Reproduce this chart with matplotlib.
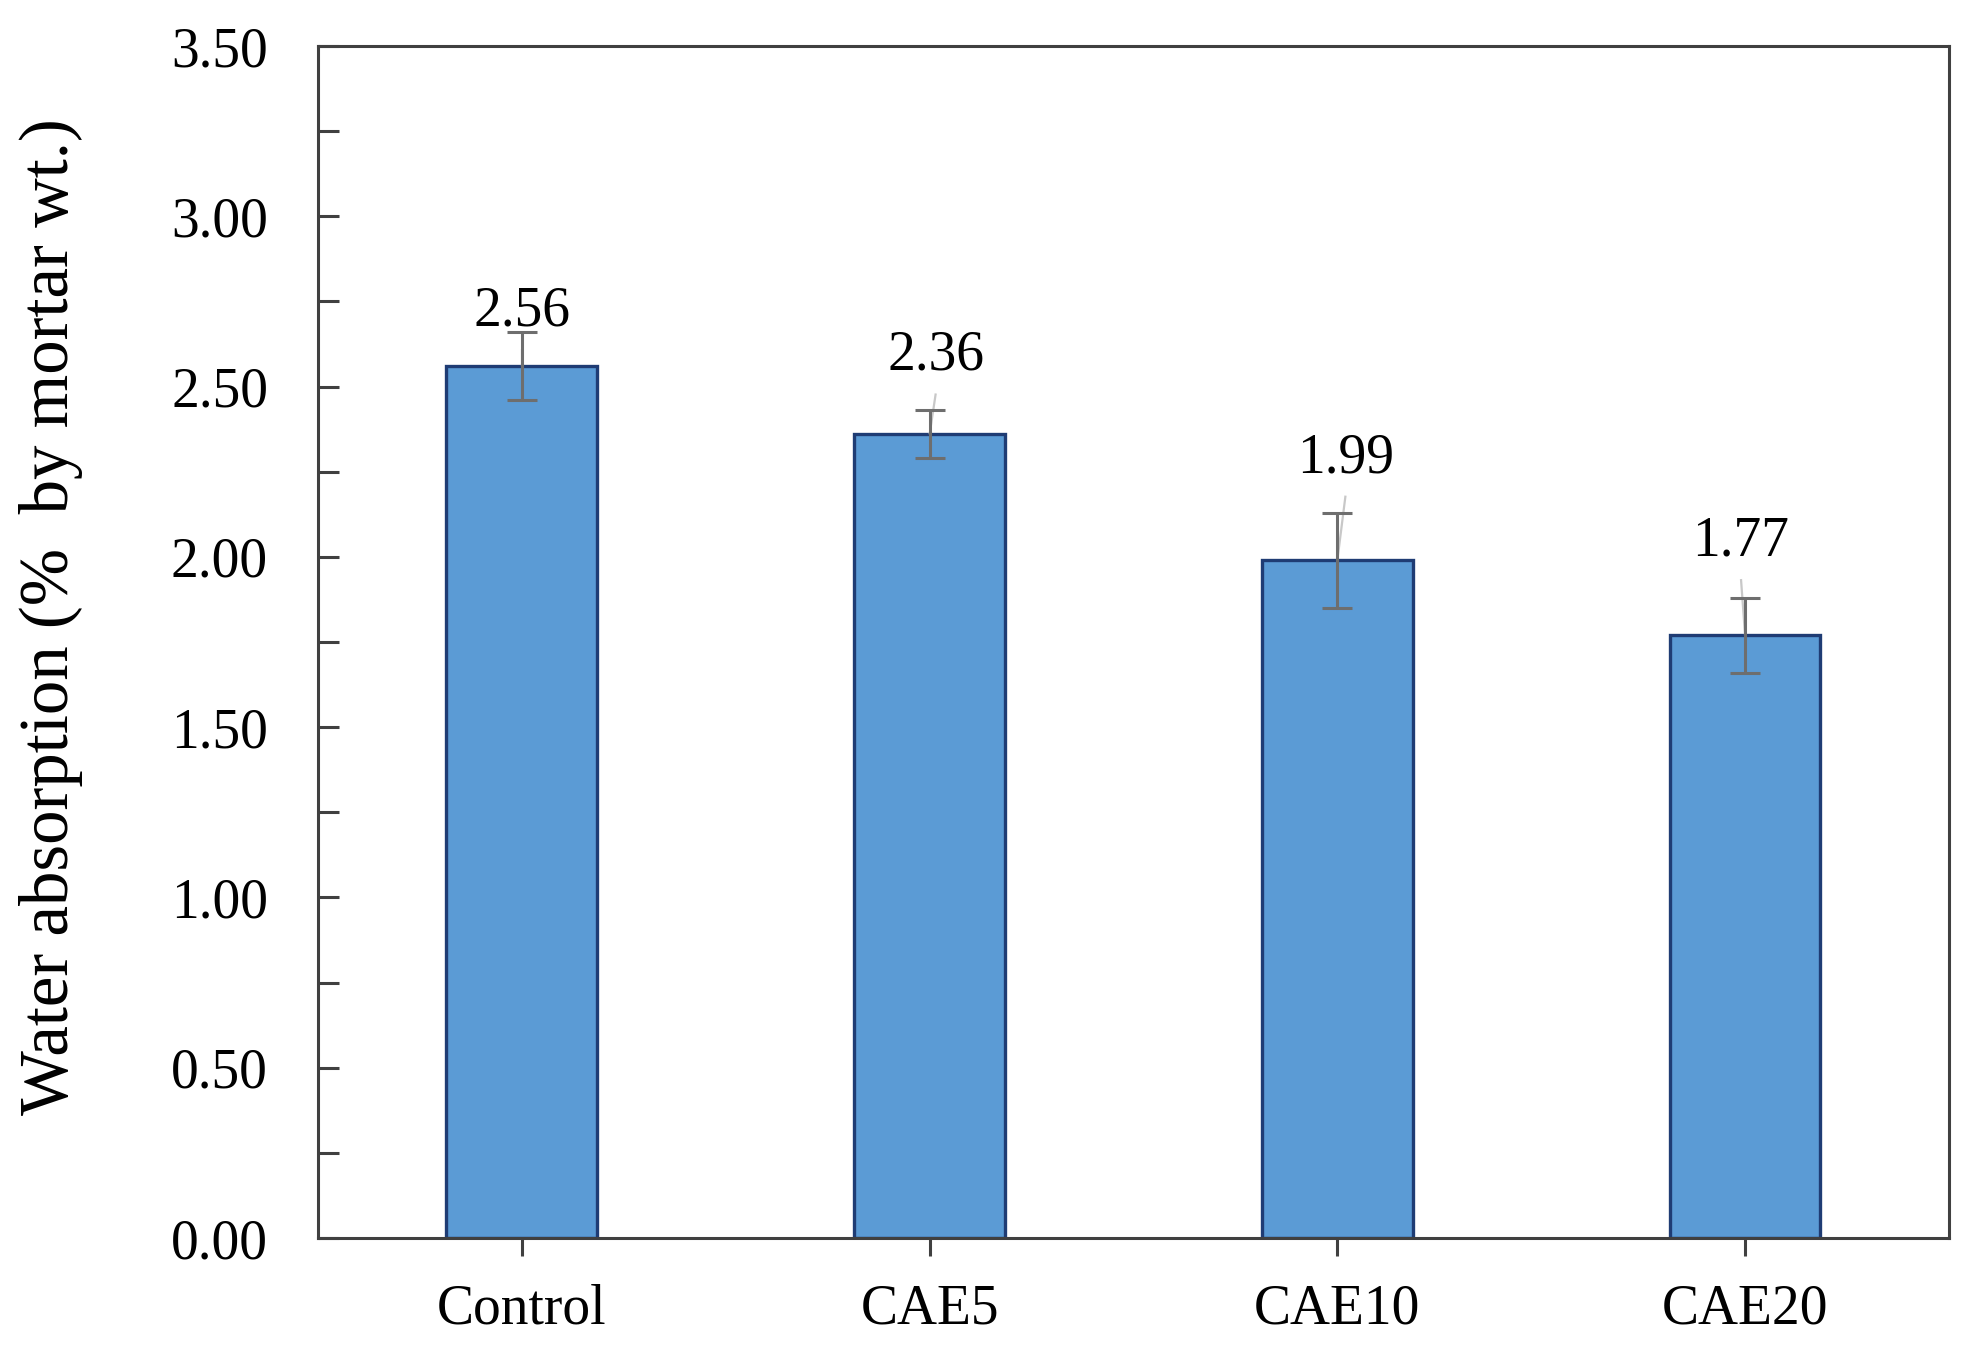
"""
Water absorption bar chart
"""

import matplotlib

matplotlib.use("Agg")

import matplotlib.pyplot as plt
import numpy as np
from matplotlib.ticker import MultipleLocator

# =============================================================================
# DATA
# =============================================================================

categories = ["Control", "CAE5", "CAE10", "CAE20"]
absorption = [2.56, 2.36, 1.99, 1.77]
errors = [0.10, 0.07, 0.14, 0.11]
labels = ["2.56", "2.36", "1.99", "1.77"]

# label placement (offset above the upper cap, sideways shift)
label_rise = [0.06, 0.16, 0.16, 0.165]
label_shift = [0.0, 0.015, 0.02, -0.01]

# =============================================================================
# STYLE
# =============================================================================

plt.rcParams["font.family"] = ["Liberation Serif", "DejaVu Serif"]

BAR_COLOR = "#5B9BD5"
EDGE_COLOR = "#1F3C74"
ERROR_COLOR = "#6E6E6E"
SPINE_COLOR = "#404040"
FONT_SIZE = 40

# =============================================================================
# PLOT
# =============================================================================

figure = plt.figure(figsize=(19.73, 13.51), dpi=100)
axis = figure.add_axes([0.1612, 0.0836, 0.8266, 0.8823])

x = np.arange(len(categories))

axis.bar(
    x,
    absorption,
    width=0.37,
    color=BAR_COLOR,
    edgecolor=EDGE_COLOR,
    linewidth=2.4,
    zorder=2,
)

axis.errorbar(
    x,
    absorption,
    yerr=errors,
    fmt="none",
    ecolor=ERROR_COLOR,
    elinewidth=2.2,
    capsize=11,
    capthick=2.2,
    zorder=4,
)

for xi, value, err, text, rise, shift in zip(
    x, absorption, errors, labels, label_rise, label_shift
):
    label_y = value + err + rise
    # faint leader line from label down to bar top
    axis.plot(
        [xi + shift, xi],
        [label_y - 0.11, value],
        color="#C8C8C8",
        linewidth=1.6,
        zorder=3,
        solid_capstyle="butt",
    )
    axis.text(
        xi + shift,
        label_y,
        text,
        ha="center",
        va="center",
        fontsize=FONT_SIZE,
        color="black",
        zorder=5,
    )

axis.set_xlim(-0.5, len(categories) - 0.5)
axis.set_ylim(0, 3.5)

axis.yaxis.set_major_locator(MultipleLocator(0.5))
axis.yaxis.set_minor_locator(MultipleLocator(0.25))
axis.yaxis.set_major_formatter(plt.FuncFormatter(lambda v, p: f"{v:.2f}"))

axis.set_xticks(x)
axis.set_xticklabels(categories)

axis.tick_params(
    axis="y",
    which="both",
    direction="in",
    length=15,
    width=2.2,
    color=SPINE_COLOR,
    labelsize=FONT_SIZE,
    pad=36,
)
axis.tick_params(
    axis="x",
    which="both",
    direction="out",
    length=13,
    width=2.2,
    color=SPINE_COLOR,
    labelsize=FONT_SIZE,
    pad=20,
)

for spine in axis.spines.values():
    spine.set_color(SPINE_COLOR)
    spine.set_linewidth(2.2)

axis.set_ylabel(
    "Water absorption (%  by mortar wt.)",
    fontsize=49.5,
)
axis.yaxis.set_label_coords(-0.144, 0.521)

figure.savefig("out.png", dpi=100)
